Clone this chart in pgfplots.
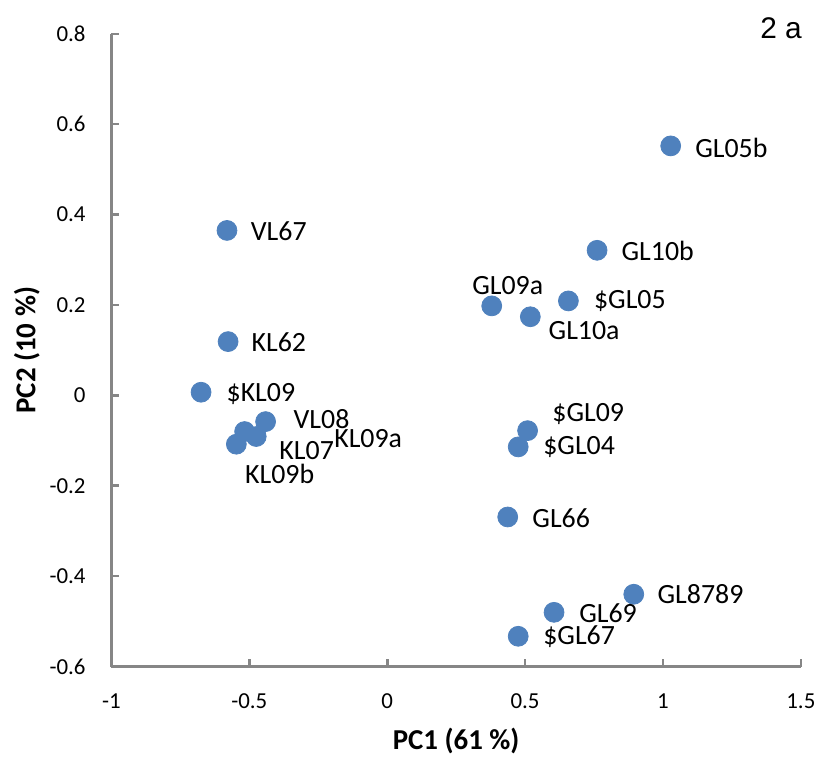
\documentclass[border=0pt]{standalone}
\usepackage{pgfplots}
\usepackage{pgfplotstable}
\usepackage{fontspec}
\setmainfont{Carlito}
\newfontfamily\arialfont{Liberation Sans}
\pgfplotsset{compat=1.18}
\definecolor{ptblue}{RGB}{79,129,189}
\definecolor{axgray}{RGB}{134,134,134}

% x y = score, lx ly = where the label sits
\pgfplotstableread{
x y lx ly label
1.028 0.552 1.248 0.548 GL05b
-0.581 0.365 -0.393 0.363 VL67
0.761 0.321 0.981 0.319 GL10b
0.379 0.198 0.437 0.242 GL09a
0.657 0.209 0.880 0.209 \$GL05
0.519 0.174 0.714 0.143 GL10a
-0.577 0.119 -0.393 0.117 KL62
-0.675 0.007 -0.458 0.002 \$KL09
-0.441 -0.058 -0.238 -0.053 VL08
-0.517 -0.080 -0.069 -0.095 KL09a
-0.475 -0.091 -0.292 -0.121 KL07
-0.547 -0.108 -0.390 -0.174 KL09b
0.509 -0.078 0.729 -0.042 \$GL09
0.475 -0.114 0.696 -0.114 \$GL04
0.437 -0.269 0.631 -0.271 GL66
0.894 -0.440 1.136 -0.440 GL8789
0.605 -0.480 0.801 -0.482 GL69
0.475 -0.533 0.696 -0.533 \$GL67
}\scores

\begin{document}
\begin{tikzpicture}
\begin{axis}[
    name=ax,
    scale only axis,
    width=346.5pt, height=318pt,
    xmin=-1, xmax=1.5,
    ymin=-0.6, ymax=0.8,
    xtick={-1,-0.5,0,0.5,1,1.5},
    ytick={-0.6,-0.4,-0.2,0,0.2,0.4,0.6,0.8},
    axis x line*=bottom,
    axis y line*=left,
    axis line style={axgray, line width=1.3pt},
    tick style={axgray, line width=1.3pt},
    major tick length=4pt,
    tick align=inside,
    /pgf/number format/assume math mode=true,
    ticklabel style={font=\fontsize{11.5}{13}\selectfont},
    yticklabel style={xshift=-9.5pt},
    xticklabel style={yshift=-10pt},
    xlabel={PC1 (61 \%)},
    ylabel={PC2 (10 \%)},
    xlabel style={font=\fontsize{14.5}{17}\selectfont\bfseries,
        at={(axis description cs:0.5,-0.118)}, anchor=center},
    ylabel style={font=\fontsize{14.5}{17}\selectfont\bfseries,
        at={(axis description cs:-0.1227,0.5)}, anchor=center},
    clip=false,
]
\addplot[only marks, mark=*, mark size=5pt,
    mark options={fill=ptblue, draw=ptblue}]
    table[x=x, y=y] {\scores};
\addplot[only marks, mark=none,
    nodes near coords, point meta=explicit symbolic,
    nodes near coords style={anchor=center, font=\fontsize{14}{16}\selectfont, text=black}]
    table[x=lx, y=ly, meta=label] {\scores};
\node[font=\arialfont\fontsize{15}{18}\selectfont] at (axis cs:1.428,0.812) {2 a};
\end{axis}
\path ([shift={(-56pt,-46pt)}]ax.south west) rectangle ([shift={(8.5pt,17pt)}]ax.north east);
\end{tikzpicture}
\end{document}
